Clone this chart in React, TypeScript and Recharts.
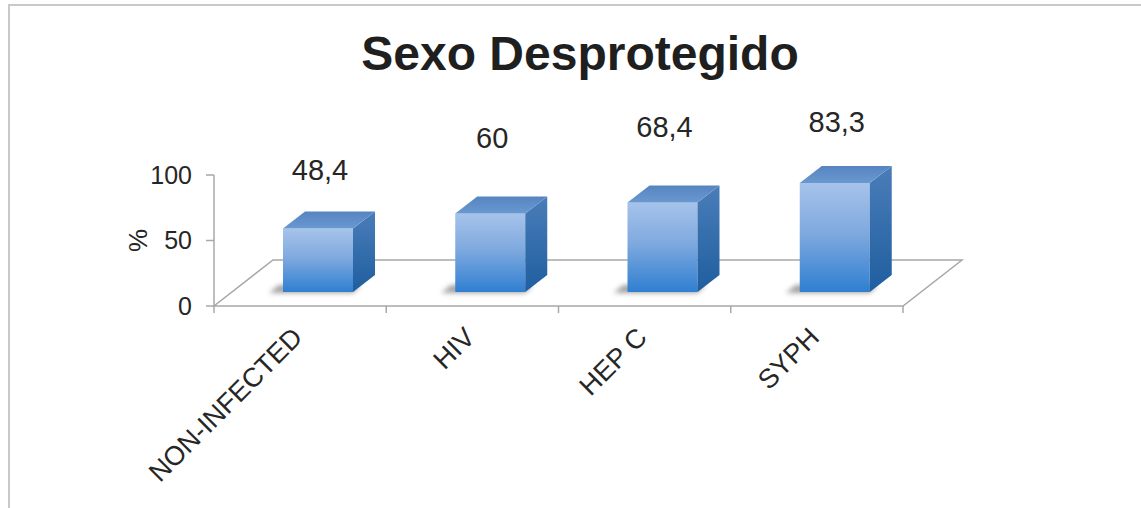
import React from 'react';
import { BarChart, Bar, XAxis, YAxis, ReferenceArea, LabelList } from 'recharts';

// Chart content
const chartTitle = 'Sexo Desprotegido';
const categories = ['NON-INFECTED', 'HIV', 'HEP C', 'SYPH'];
const percentages = [48.4, 60, 68.4, 83.3];
const yTicks = [0, 50, 100];
const yAxisLabel = '%';

const data = categories.map((name, i) => ({ name, value: percentages[i] }));

// Pseudo-3D geometry (pixels)
const FLOOR_DX = 59;
const FLOOR_DY = 46;
const BAR_SHIFT_X = 18; // columns stand part-way back on the floor
const BAR_SHIFT_Y = 14;
const BAR_DEPTH_X = 22;
const BAR_DEPTH_Y = 17;
const LABEL_LIFT = [63, 79, 79, 65];

const FONT = '"Liberation Sans", Arial, Helvetica, sans-serif';
const TEXT = '#262626';
const AXIS_GREY = '#a8a8a8';

const W = 1141;
const H = 508;

const Floor = (props: any) => {
  const { x, y, width, height } = props;
  const base = y + height;
  const n = categories.length;
  const ticks = [];
  for (let i = 0; i <= n; i++) {
    const tx = x + (i * width) / n;
    ticks.push(<line key={i} x1={tx} y1={base} x2={tx} y2={base + 7} stroke={AXIS_GREY} strokeWidth={1.5} />);
  }
  return (
    <g>
      <polygon
        points={`${x},${base} ${x + width},${base} ${x + width + FLOOR_DX},${base - FLOOR_DY} ${x + FLOOR_DX},${base - FLOOR_DY}`}
        fill="#ffffff"
        stroke={AXIS_GREY}
        strokeWidth={1.5}
      />
      {ticks}
    </g>
  );
};

const Column3D = (props: any) => {
  const { x, y, width, height, index } = props;
  if (!height || height <= 0) return null;
  const fx = x + BAR_SHIFT_X;
  const fy = y - BAR_SHIFT_Y;
  const bottom = fy + height;
  const dx = BAR_DEPTH_X;
  const dy = BAR_DEPTH_Y;
  const id = `col${index}`;
  return (
    <g>
      <defs>
        <linearGradient id={`${id}-front`} x1="0" y1="0" x2="0" y2="1">
          <stop offset="0%" stopColor="#a6c3ea" />
          <stop offset="45%" stopColor="#80aadf" />
          <stop offset="100%" stopColor="#2f7fd1" />
        </linearGradient>
        <linearGradient id={`${id}-side`} x1="0" y1="0" x2="0" y2="1">
          <stop offset="0%" stopColor="#4a7db9" />
          <stop offset="100%" stopColor="#1f5e9f" />
        </linearGradient>
        <linearGradient id={`${id}-top`} x1="0" y1="1" x2="0" y2="0">
          <stop offset="0%" stopColor="#6a98d0" />
          <stop offset="100%" stopColor="#5584c0" />
        </linearGradient>
        <filter id={`${id}-blur`} x="-30%" y="-100%" width="160%" height="300%">
          <feGaussianBlur stdDeviation="2.5" />
        </filter>
      </defs>
      <polygon
        points={`${fx - 14},${bottom + 1} ${fx + width},${bottom + 1} ${fx + width + 8},${bottom - 7} ${fx - 4},${bottom - 7}`}
        fill="#555555"
        opacity={0.55}
        filter={`url(#${id}-blur)`}
      />
      <rect x={fx} y={fy} width={width} height={height} fill={`url(#${id}-front)`} />
      <polygon
        points={`${fx + width},${fy} ${fx + width + dx},${fy - dy} ${fx + width + dx},${bottom - dy} ${fx + width},${bottom}`}
        fill={`url(#${id}-side)`}
      />
      <polygon
        points={`${fx},${fy} ${fx + width},${fy} ${fx + width + dx},${fy - dy} ${fx + dx},${fy - dy}`}
        fill={`url(#${id}-top)`}
      />
    </g>
  );
};

const ValueLabel = (props: any) => {
  const { x, y, width, value, index } = props;
  const cx = x + BAR_SHIFT_X + width / 2 + 2;
  const ly = y - (LABEL_LIFT[index] ?? 70);
  return (
    <text x={cx} y={ly} textAnchor="middle" fontSize={29} fontFamily={FONT} fill={TEXT}>
      {String(value).replace('.', ',')}
    </text>
  );
};

const CategoryTick = (props: any) => {
  const { x, y, payload } = props;
  const ax = x + 4;
  const ay = y + 33;
  return (
    <text
      x={ax}
      y={ay}
      transform={`rotate(-45 ${ax} ${ay})`}
      textAnchor="end"
      fontSize={27}
      fontFamily={FONT}
      fill={TEXT}
    >
      {payload.value}
    </text>
  );
};

const PercentLabel = (props: any) => {
  const { viewBox } = props;
  const lx = viewBox.x + 4;
  const ly = viewBox.y + viewBox.height / 2;
  return (
    <text
      x={lx}
      y={ly}
      transform={`rotate(-90 ${lx} ${ly})`}
      textAnchor="middle"
      dominantBaseline="central"
      fontSize={26}
      fontFamily={FONT}
      fill={TEXT}
    >
      {yAxisLabel}
    </text>
  );
};

export default function App() {
  return (
    <div style={{ position: 'absolute', left: 0, top: 0, width: W, height: H, background: '#ffffff' }}>
      <BarChart
        width={W}
        height={H}
        data={data}
        margin={{ top: 175, right: 238, bottom: 142, left: 134 }}
        barSize={70}
      >
        <XAxis
          dataKey="name"
          height={60}
          interval={0}
          axisLine={false}
          tickLine={false}
          tickSize={0}
          tickMargin={0}
          tick={CategoryTick}
        />
        <YAxis
          width={80}
          domain={[0, 100]}
          ticks={yTicks}
          interval={0}
          axisLine={{ stroke: AXIS_GREY, strokeWidth: 1.5 }}
          tickLine={{ stroke: AXIS_GREY, strokeWidth: 1.5 }}
          tickSize={8}
          tickMargin={14}
          tick={{ fontSize: 25, fontFamily: FONT, fill: TEXT }}
          label={<PercentLabel />}
        />
        <ReferenceArea y1={0} y2={100} shape={Floor} ifOverflow="visible" />
        <Bar dataKey="value" shape={Column3D} isAnimationActive={false}>
          <LabelList dataKey="value" content={ValueLabel} />
        </Bar>
      </BarChart>
      <svg
        width={W}
        height={H}
        style={{ position: 'absolute', left: 0, top: 0, pointerEvents: 'none' }}
      >
        <polyline points={`9,${H} 9,5 ${W},5`} fill="none" stroke="#c9c9c9" strokeWidth={2} />
        <text x={580} y={70} textAnchor="middle" fontSize={48} fontWeight="bold" fontFamily={FONT} fill="#1f1f1f">
          {chartTitle}
        </text>
      </svg>
    </div>
  );
}
